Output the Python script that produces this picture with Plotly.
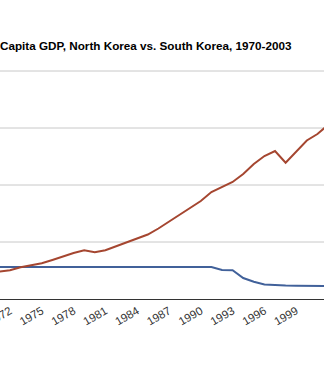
import plotly.graph_objects as go

# Per capita GDP (1990 international dollars), 1970-2003
years = list(range(1970, 2004))
south_korea = [2281, 2395, 2518, 2781, 2982, 3132, 3421, 3728, 4035, 4272,
               4096, 4272, 4605, 4956, 5307, 5658, 6184, 6798, 7412, 7982,
               8596, 9386, 9825, 10263, 10965, 11842, 12544, 12982, 11956, 12895,
               13904, 14474, 15263, 15877]
north_korea = [2810] * 22 + [2544, 2518, 1842, 1518, 1272, 1210, 1184, 1167,
                             1158, 1140, 1135, 1127]
tick_years = list(range(1972, 2004, 3))
grid_values = [5000, 10000, 15000, 20000]

fig = go.Figure()
fig.add_trace(go.Scatter(x=years, y=north_korea, mode="lines", name="North Korea",
                         line=dict(color="#41619a", width=2)))
fig.add_trace(go.Scatter(x=years, y=south_korea, mode="lines", name="South Korea",
                         line=dict(color="#a54630", width=2)))

# horizontal gridlines
for v in grid_values:
    fig.add_shape(type="line", xref="paper", x0=0, x1=1, yref="y", y0=v, y1=v,
                  line=dict(color="#c8c8c8", width=1), layer="below")

fig.update_layout(
    width=324, height=371,
    margin=dict(l=0, r=0, t=60, b=72, autoexpand=False),
    paper_bgcolor="white", plot_bgcolor="white",
    showlegend=False,
    title=dict(text="<b>Capita GDP, North Korea vs. South Korea, 1970-2003</b>",
               x=0, xref="paper", xanchor="left",
               y=1 - 46 / 371, yref="container", yanchor="middle",
               font=dict(family="Arial, Liberation Sans", size=11.7, color="#000")),
    xaxis=dict(range=[1971.06, 2001.62], tickmode="array", tickvals=tick_years,
               ticktext=[str(y) for y in tick_years], tickangle=-30,
               ticklabeloverflow="allow", automargin=False,
               tickfont=dict(family="Arial, Liberation Sans", size=11.5, color="#333"),
               showgrid=False, zeroline=False, showline=True, linecolor="#333",
               linewidth=1, ticks=""),
    yaxis=dict(range=[0, 20000 * 239 / 228], showticklabels=False, automargin=False,
               showgrid=False, zeroline=False, showline=False),
)

fig.write_html("out.html")
